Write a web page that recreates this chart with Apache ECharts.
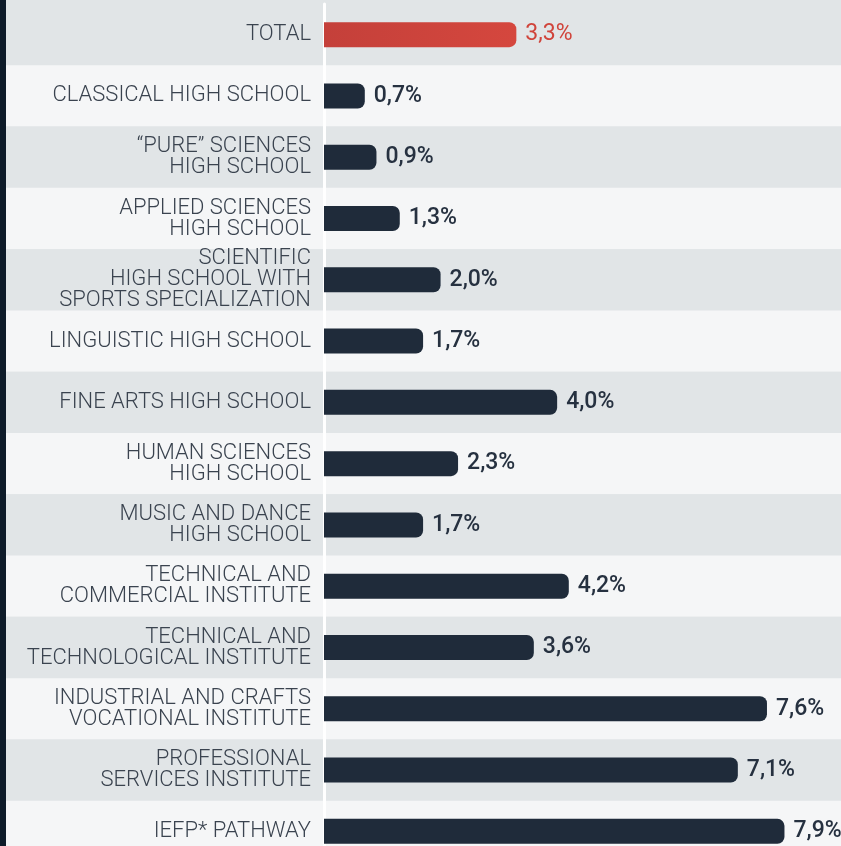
<!DOCTYPE html>
<html>
<head>
<meta charset="utf-8">
<script src="https://cdn.jsdelivr.net/npm/echarts@6/dist/echarts.min.js"></script>
<style>
  html, body { margin: 0; padding: 0; background: #0e1b29; overflow: hidden; }
  #chart { position: absolute; left: 6px; top: 0; width: 835px; height: 870px; }
</style>
</head>
<body>
<div id="chart"></div>
<script>
// School types, top to bottom
const categories = [
  'TOTAL',
  'CLASSICAL HIGH SCHOOL',
  '“PURE” SCIENCES\nHIGH SCHOOL',
  'APPLIED SCIENCES\nHIGH SCHOOL',
  'SCIENTIFIC\nHIGH SCHOOL WITH\nSPORTS SPECIALIZATION',
  'LINGUISTIC HIGH SCHOOL',
  'FINE ARTS HIGH SCHOOL',
  'HUMAN SCIENCES\nHIGH SCHOOL',
  'MUSIC AND DANCE\nHIGH SCHOOL',
  'TECHNICAL AND\nCOMMERCIAL INSTITUTE',
  'TECHNICAL AND\nTECHNOLOGICAL INSTITUTE',
  'INDUSTRIAL AND CRAFTS\nVOCATIONAL INSTITUTE',
  'PROFESSIONAL\nSERVICES INSTITUTE',
  'IEFP* PATHWAY'
];

// Percentage for each school type
const values = [3.3, 0.7, 0.9, 1.3, 2.0, 1.7, 4.0, 2.3, 1.7, 4.2, 3.6, 7.6, 7.1, 7.9];

const BAND_DARK = '#e1e5e7';
const BAND_LIGHT = '#f5f6f7';
const BAR_DARK = '#1f2b3a';
const TEXT = '#3a434f';
const RED = '#d0443b';

// rows run past the bottom edge of the page; the last one is cut off
const GRID_TOP = 4;
const GRID_HEIGHT = 858;

const chart = echarts.init(document.getElementById('chart'), null, { renderer: 'canvas' });

const fmt = v => v.toFixed(1).replace('.', ',') + '%';

chart.setOption({
  backgroundColor: BAND_DARK,
  animation: false,
  grid: [
    // label column (striped rows only)
    { left: 0, width: 317, top: GRID_TOP, height: GRID_HEIGHT },
    // bar column
    { left: 318, right: 0, top: GRID_TOP, height: GRID_HEIGHT }
  ],
  xAxis: [
    { gridIndex: 0, type: 'value', show: false, min: 0, max: 1 },
    { gridIndex: 1, type: 'value', show: false, min: 0, max: 8.87 }
  ],
  yAxis: [
    {
      gridIndex: 0, type: 'category', inverse: true, data: categories,
      axisLine: { show: false }, axisTick: { show: false }, axisLabel: { show: false },
      splitArea: { show: true, areaStyle: { color: [BAND_DARK, BAND_LIGHT] } }
    },
    {
      gridIndex: 1, type: 'category', inverse: true, data: categories,
      axisLine: { show: true, lineStyle: { color: '#ffffff', width: 3 } },
      axisTick: { show: false },
      axisLabel: {
        margin: 13,
        color: TEXT,
        fontFamily: 'Roboto',
        fontWeight: 300,
        fontSize: 22,
        lineHeight: 21,
        align: 'right'
      },
      splitArea: { show: true, areaStyle: { color: [BAND_DARK, BAND_LIGHT] } }
    }
  ],
  series: [{
    type: 'bar',
    xAxisIndex: 1,
    yAxisIndex: 1,
    barWidth: 25,
    data: values.map((v, i) => ({
      value: v,
      itemStyle: i === 0 ? {
        color: new echarts.graphic.LinearGradient(0, 0, 1, 0, [
          { offset: 0, color: '#c4403a' },
          { offset: 1, color: '#d5473e' }
        ])
      } : { color: BAR_DARK },
      label: i === 0 ? { color: RED, fontWeight: 400 } : {}
    })),
    itemStyle: { borderRadius: [0, 7, 7, 0] },
    label: {
      show: true,
      position: 'right',
      distance: 9,
      color: '#263140',
      fontFamily: 'Roboto',
      fontWeight: 500,
      fontSize: 23,
      formatter: p => fmt(p.value)
    }
  }]
});
</script>
</body>
</html>
